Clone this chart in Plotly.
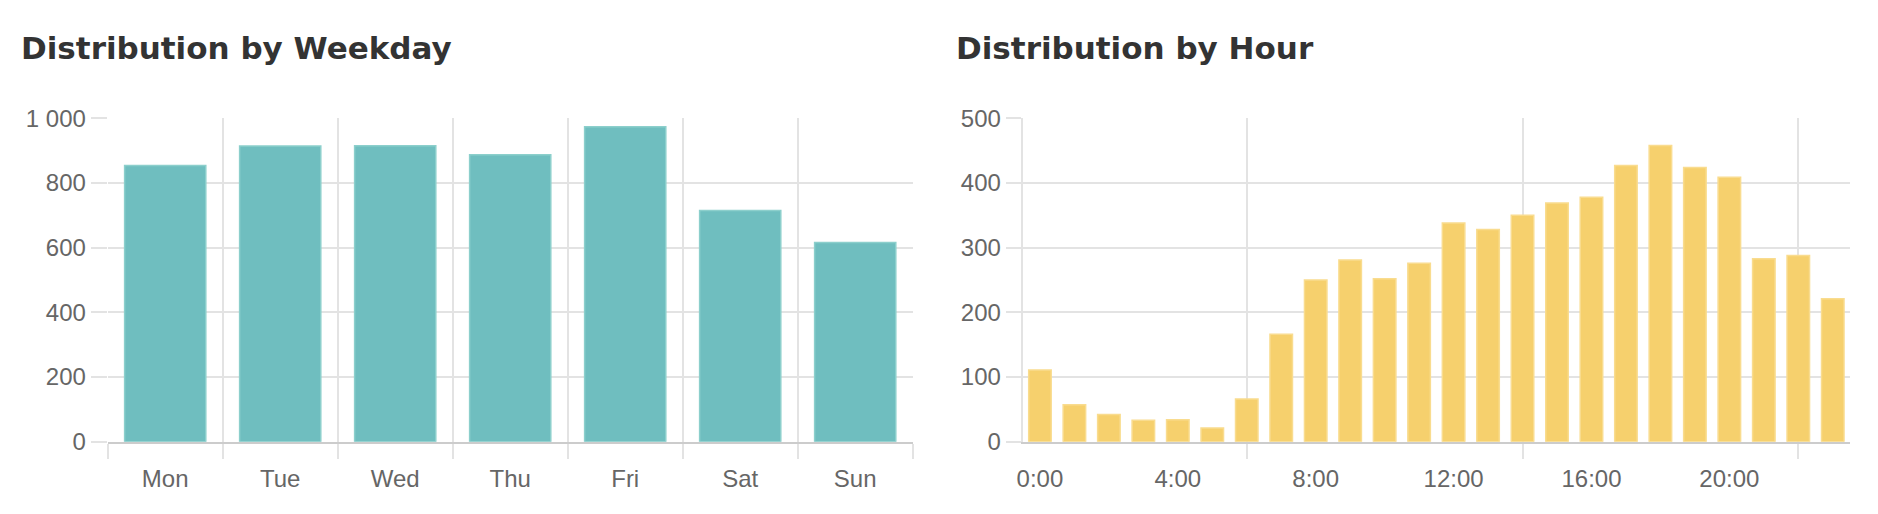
import plotly.graph_objects as go

# ---- data ----
weekdays = ["Mon", "Tue", "Wed", "Thu", "Fri", "Sat", "Sun"]
weekday_counts = [854, 914, 915, 887, 974, 715, 616]

hours = list(range(24))
hour_counts = [111, 57, 42, 33, 34, 21, 66, 166, 250, 281, 252, 276,
               338, 328, 350, 369, 378, 427, 458, 424, 409, 283, 288, 221]
hour_label_vals = [0, 4, 8, 12, 16, 20]
hour_label_text = ["0:00", "4:00", "8:00", "12:00", "16:00", "20:00"]
hour_tick_vals = [6, 14, 22]

titles = ["Distribution by Weekday", "Distribution by Hour"]

# ---- style ----
OFF = 8  # page body margin
W, H = 1878 - 2 * OFF, 514 - 2 * OFF
TEAL, TEAL_LINE = "#6fbebf", "#8ccfcc"
YEL, YEL_LINE = "#f6d06d", "#f9dc8f"
GRID = "#e3e3e3"
AXIS = "#cccccc"
TICKFONT = dict(family="Liberation Sans, Arial, Helvetica, sans-serif", size=24, color="#666666")
TITLEFONT = dict(family="DejaVu Sans, Verdana, sans-serif", size=31, color="#333333")

def px_x(p):
    return (p - OFF) / W

def px_y(p):
    return 1 - (p - OFF) / H

ydom = [px_y(441.7), px_y(118.3)]

fig = go.Figure()

fig.add_trace(go.Bar(
    x=weekdays, y=weekday_counts, xaxis="x", yaxis="y",
    marker=dict(color=TEAL, line=dict(color=TEAL_LINE, width=1.5)),
    showlegend=False, hoverinfo="x+y",
))
fig.add_trace(go.Bar(
    x=hours, y=hour_counts, xaxis="x2", yaxis="y2", width=0.653,
    marker=dict(color=YEL, line=dict(color=YEL_LINE, width=1.5)),
    showlegend=False, hoverinfo="y",
))
# transparent trace that activates the overlay label axis x3
fig.add_trace(go.Bar(x=hours, y=[0] * 24, xaxis="x3", yaxis="y2",
                     showlegend=False, hoverinfo="skip",
                     marker=dict(color="rgba(0,0,0,0)")))

fig.update_layout(
    template="none",
    width=W, height=H,
    margin=dict(l=0, r=0, t=0, b=0, autoexpand=False),
    paper_bgcolor="white", plot_bgcolor="white",
    separators=". ",
    bargap=0.294,
    showlegend=False,
    xaxis=dict(
        domain=[px_x(107.7), px_x(912.7)], anchor="y", automargin=False,
        type="category", tickson="boundaries",
        showgrid=True, gridcolor=GRID, gridwidth=2,
        ticks="outside", ticklen=15, tickwidth=2, tickcolor=GRID,
        ticklabelstandoff=14,
        showline=True, linecolor=AXIS, linewidth=2,
        tickfont=TICKFONT, zeroline=False, fixedrange=True,
    ),
    yaxis=dict(
        domain=ydom, anchor="x", range=[0, 1000], automargin=False,
        tickvals=[0, 200, 400, 600, 800, 1000], separatethousands=True,
        showgrid=True, gridcolor=GRID, gridwidth=2,
        ticks="outside", ticklen=16, tickwidth=2, tickcolor=GRID,
        showline=False, zeroline=False,
        tickfont=TICKFONT, fixedrange=True,
    ),
    xaxis2=dict(
        domain=[px_x(1022.7), px_x(1850)], anchor="y2", automargin=False,
        range=[-0.5, 23.5], tickvals=hour_tick_vals,
        showticklabels=False,
        showgrid=True, gridcolor=GRID, gridwidth=2,
        ticks="outside", ticklen=15, tickwidth=2, tickcolor=GRID,
        showline=True, linecolor=AXIS, linewidth=2,
        zeroline=False, fixedrange=True,
    ),
    xaxis3=dict(
        overlaying="x2", anchor="y2", side="bottom", automargin=False,
        range=[-0.5, 23.5], tickvals=hour_label_vals, ticktext=hour_label_text,
        showgrid=False, ticks="outside", ticklen=15, tickcolor="rgba(0,0,0,0)",
        ticklabelstandoff=0,
        showline=False, zeroline=False, tickfont=TICKFONT, fixedrange=True,
    ),
    yaxis2=dict(
        domain=ydom, anchor="x2", range=[0, 500], automargin=False,
        tickvals=[0, 100, 200, 300, 400, 500],
        showgrid=True, gridcolor=GRID, gridwidth=2,
        ticks="outside", ticklen=15, tickwidth=2, tickcolor=GRID,
        showline=True, linecolor=GRID, linewidth=2, zeroline=False,
        tickfont=TICKFONT, fixedrange=True,
    ),
)

fig.add_annotation(text="<b>%s</b>" % titles[0], xref="paper", yref="paper",
                   x=px_x(19), y=px_y(48), xanchor="left", yanchor="middle",
                   showarrow=False, font=TITLEFONT)
fig.add_annotation(text="<b>%s</b>" % titles[1], xref="paper", yref="paper",
                   x=px_x(954), y=px_y(48), xanchor="left", yanchor="middle",
                   showarrow=False, font=TITLEFONT)

fig.write_html("out.html")
